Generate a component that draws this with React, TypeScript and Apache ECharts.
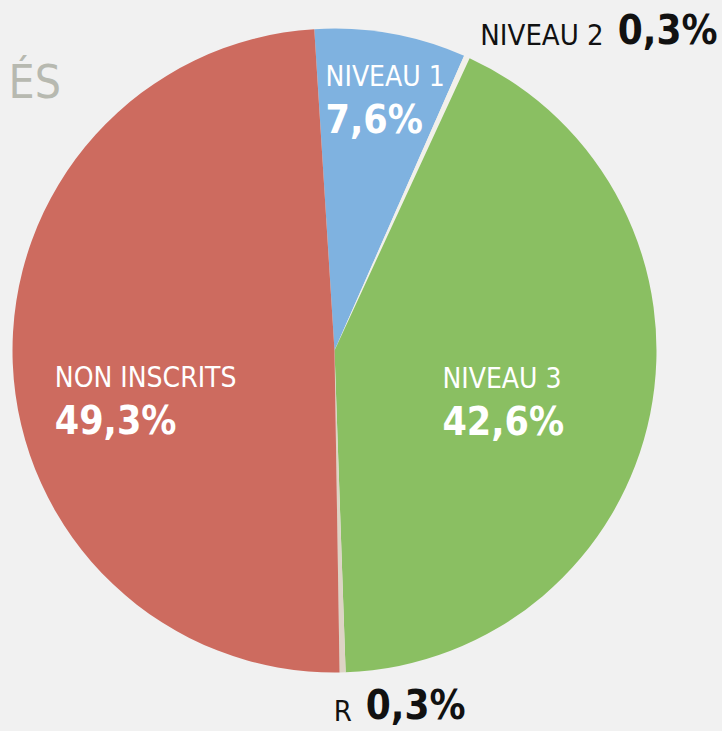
import React, { useEffect, useRef } from "react";
import * as echarts from "echarts";

const categories = ["NIVEAU 1", "NIVEAU 2", "NIVEAU 3", "R", "NON INSCRITS"];
const values = [7.6, 0.3, 42.6, 0.3, 49.3];
const pctLabels = ["7,6%", "0,3%", "42,6%", "0,3%", "49,3%"];
const colors = ["#7fb2e0", "#f2f0ea", "#8abf62", "#ddd3c5", "#cd6b5f"];
const inside = [true, false, true, false, true];
const labelOffsets: [number, number][] = [
  [22, -90],
  [197, -171],
  [8, 19],
  [61, 191],
  [-25, 44],
];

const FONT = "'DejaVu Sans Condensed', 'Liberation Sans Narrow', sans-serif";

export default function App() {
  const ref = useRef<HTMLDivElement>(null);
  useEffect(() => {
    const chart = echarts.init(ref.current!, null, { renderer: "svg" });
    const data = categories.map((name, i) => {
      const isIn = inside[i];
      return {
        name,
        value: values[i],
        itemStyle: { color: colors[i] },
        label: {
          show: true,
          position: "inside",
          align: "center",
          verticalAlign: "middle",
          offset: labelOffsets[i],
          formatter: isIn ? `{n|${name}}\n{p|${pctLabels[i]}}` : `{o|${name}}{q|${pctLabels[i]}}`,
          rich: {
            n: { color: "#ffffff", fontSize: 28, fontFamily: FONT, lineHeight: 40, align: "left" },
            p: { color: "#ffffff", fontSize: 39, fontWeight: "bold", fontFamily: FONT, lineHeight: 46, align: "left" },
            o: { color: "#111111", fontSize: 29, fontFamily: FONT, verticalAlign: "bottom" },
            q: { color: "#111111", fontSize: 40, fontWeight: "bold", fontFamily: FONT, verticalAlign: "bottom", padding: [0, 0, 0, 14] },
          },
        },
      };
    });
    chart.setOption({
      animation: false,
      backgroundColor: "#f1f1f1",
      graphic: [
        {
          type: "text",
          right: 661,
          top: 59,
          style: { text: "ÉS", fontSize: 46, fontFamily: FONT, fill: "#b7b9b0" },
        },
      ],
      series: [
        {
          type: "pie",
          center: [334.5, 350.5],
          radius: [0, 322],
          startAngle: 93.6,
          clockwise: true,
          avoidLabelOverlap: false,
          labelLine: { show: false },
          emphasis: { disabled: true },
          itemStyle: { borderWidth: 0 },
          data,
        },
      ],
    });
    return () => chart.dispose();
  }, []);
  return (
    <div
      ref={ref}
      style={{ position: "absolute", left: 0, top: 0, width: 722, height: 731 }}
    />
  );
}
